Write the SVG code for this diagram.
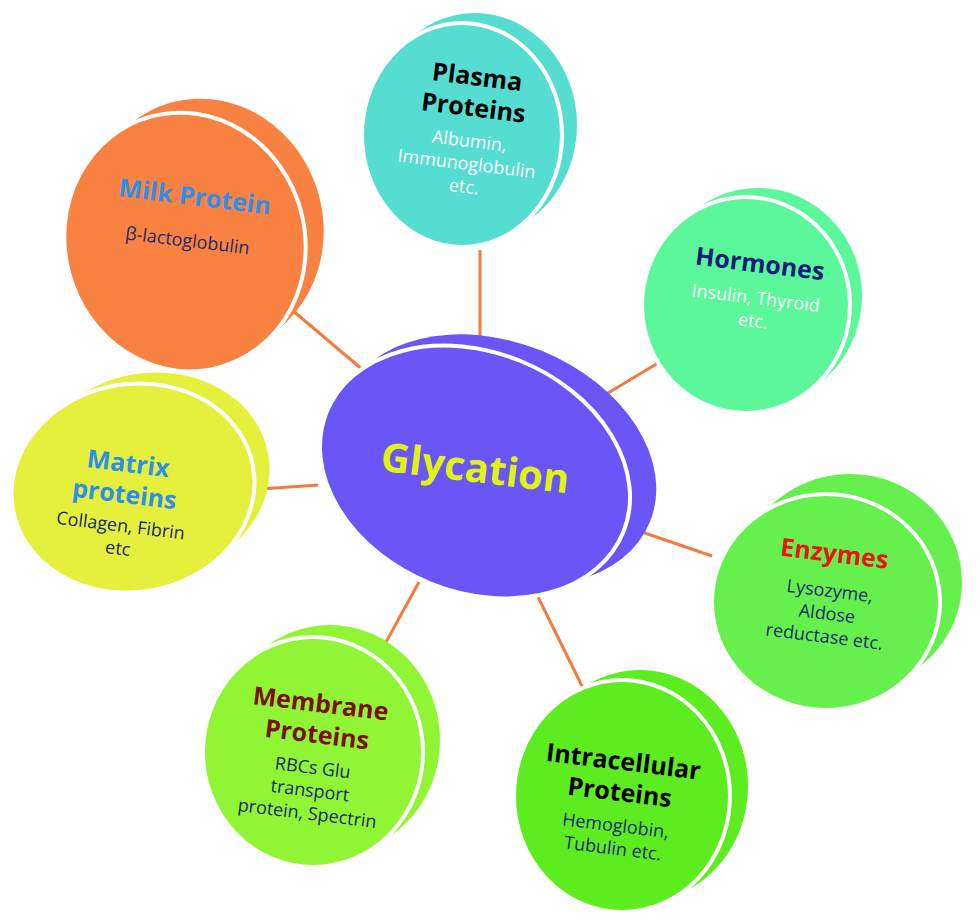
<svg xmlns="http://www.w3.org/2000/svg" width="980" height="922" viewBox="0 0 980 922">
<style>
text{font-family:"Open Sans","DejaVu Sans",sans-serif;text-anchor:middle}
.t{font-weight:bold;font-size:25px}
.s{font-size:18px}
.gap{stroke:#fff;stroke-width:4}
.c line{stroke:#f57a3f;stroke-width:3}
</style>
<rect width="980" height="922" fill="#fff"/>
<g class="c">
<line x1="292" y1="310" x2="363" y2="370"/>
<line x1="480" y1="250" x2="480" y2="352"/>
<line x1="663" y1="360" x2="593" y2="402"/>
<line x1="245" y1="490" x2="318" y2="485"/>
<line x1="636" y1="530" x2="712" y2="556"/>
<line x1="538" y1="597" x2="583" y2="688"/>
<line x1="419" y1="582" x2="375" y2="662"/>
</g>
<g id="milk">
<ellipse cx="205" cy="226" rx="118" ry="128" fill="#f98243" transform="rotate(-15 205 226)"/>
<ellipse cx="185" cy="242" rx="120" ry="130" fill="#f98243" class="gap" transform="rotate(-15 185 242)"/>
<g transform="rotate(7 190 220)"><text x="192" y="205" class="t" fill="#2d8fe8">Milk Protein</text>
<text x="190" y="247" class="s" fill="#1a2a6a">β-lactoglobulin</text></g>
</g>
<g id="plasma">
<ellipse cx="475" cy="125" rx="102" ry="112" fill="#56ddd2"/>
<ellipse cx="462" cy="135" rx="100" ry="112" fill="#56ddd2" class="gap"/>
<g transform="rotate(7 470 120)"><text x="472" y="85" class="t" fill="#000">Plasma</text>
<text x="472" y="116" class="t" fill="#000">Proteins</text>
<text x="472" y="147" class="s" fill="#fff">Albumin,</text>
<text x="472" y="170" class="s" fill="#fff">Immunoglobulin</text>
<text x="472" y="193" class="s" fill="#fff">etc.</text></g>
</g>
<g id="hormones">
<ellipse cx="758" cy="296" rx="104" ry="108" fill="#5cf79a"/>
<ellipse cx="746" cy="305" rx="104" ry="108" fill="#5cf79a" class="gap"/>
<g transform="rotate(7 755 280)"><text x="758" y="272" class="t" fill="#0f1e7a">Hormones</text>
<text x="758" y="304" class="s" fill="#fff">Insulin, Thyroid</text>
<text x="758" y="327" class="s" fill="#fff">etc.</text></g>
</g>
<g id="glycation">
<ellipse cx="497" cy="460" rx="165" ry="118" fill="#6a55f7" transform="rotate(22 497 460)"/>
<ellipse cx="475" cy="472" rx="160" ry="120" fill="#6a55f7" class="gap" transform="rotate(22 475 472)"/>
<text x="475" y="482" transform="rotate(7 475 470)" font-weight="bold" style="font-size:40px" fill="#e0f40e">Glycation</text>
</g>
<g id="matrix">
<ellipse cx="150" cy="475" rx="120" ry="102" fill="#e4f03c" transform="rotate(-10 150 475)"/>
<ellipse cx="133" cy="488" rx="122" ry="104" fill="#e4f03c" class="gap" transform="rotate(-10 133 488)"/>
<g transform="rotate(7 125 490)"><text x="125" y="472" class="t" fill="#2d8fe8">Matrix</text>
<text x="125" y="503" class="t" fill="#2d8fe8">proteins</text>
<text x="125" y="532" class="s" fill="#1a2a6a">Collagen, Fibrin</text>
<text x="125" y="555" class="s" fill="#1a2a6a">etc</text></g>
</g>
<g id="enzymes">
<ellipse cx="850" cy="582" rx="112" ry="108" fill="#65f04e"/>
<ellipse cx="826" cy="602" rx="114" ry="108" fill="#65f04e" class="gap"/>
<g transform="rotate(7 830 590)"><text x="830" y="562" class="t" fill="#e81515">Enzymes</text>
<text x="830" y="597" class="s" fill="#1a2a6a">Lysozyme,</text>
<text x="830" y="620" class="s" fill="#1a2a6a">Aldose</text>
<text x="830" y="643" class="s" fill="#1a2a6a">reductase etc.</text></g>
</g>
<g id="intracellular">
<ellipse cx="640" cy="786" rx="108" ry="116" fill="#5cec20"/>
<ellipse cx="622" cy="796" rx="108" ry="116" fill="#5cec20" class="gap"/>
<g transform="rotate(7 620 790)"><text x="620" y="770" class="t" fill="#000">Intracellular</text>
<text x="620" y="801" class="t" fill="#000">Proteins</text>
<text x="620" y="832" class="s" fill="#1a2a6a">Hemoglobin,</text>
<text x="620" y="855" class="s" fill="#1a2a6a">Tubulin etc.</text></g>
</g>
<g id="membrane">
<ellipse cx="330" cy="740" rx="110" ry="115" fill="#8ff534"/>
<ellipse cx="313" cy="752" rx="110" ry="115" fill="#8ff534" class="gap"/>
<g transform="rotate(7 315 750)"><text x="315" y="712" class="t" fill="#7a1010">Membrane</text>
<text x="315" y="743" class="t" fill="#7a1010">Proteins</text>
<text x="315" y="774" class="s" fill="#1a2a6a">RBCs Glu</text>
<text x="315" y="797" class="s" fill="#1a2a6a">transport</text>
<text x="315" y="820" class="s" fill="#1a2a6a">protein, Spectrin</text></g>
</g>
</svg>
